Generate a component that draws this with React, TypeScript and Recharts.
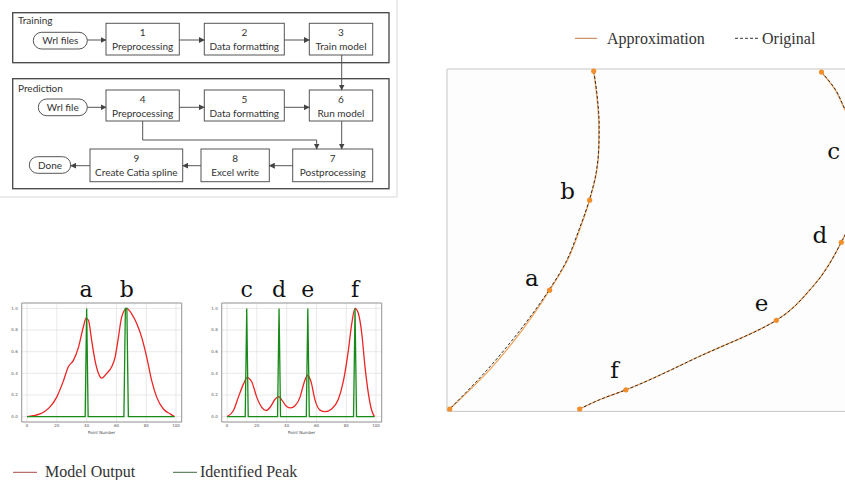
import React from 'react';
import {
  ComposedChart,
  Line,
  Scatter,
  XAxis,
  YAxis,
  CartesianGrid,
  ReferenceArea
} from 'recharts';

// ---- small plots: model output vs identified peak ----
const xTicks = [0, 20, 40, 60, 80, 100];
const yTicks = [0, 0.2, 0.4, 0.6, 0.8, 1.0];

const outputAB = [
  { x: 0, y: 0 }, { x: 4, y: 0.008 }, { x: 8.7, y: 0.025 }, { x: 12, y: 0.05 },
  { x: 15.4, y: 0.09 }, { x: 19.9, y: 0.18 }, { x: 24.4, y: 0.33 }, { x: 27.7, y: 0.46 },
  { x: 31.1, y: 0.52 }, { x: 34.5, y: 0.64 }, { x: 37.8, y: 0.83 }, { x: 39.6, y: 0.91 },
  { x: 41.2, y: 0.89 }, { x: 43.4, y: 0.7 }, { x: 45.6, y: 0.52 }, { x: 47.9, y: 0.4 },
  { x: 50.1, y: 0.355 }, { x: 53.5, y: 0.4 }, { x: 56.8, y: 0.46 }, { x: 59.1, y: 0.55 },
  { x: 61.3, y: 0.73 }, { x: 63.5, y: 0.92 }, { x: 66.9, y: 1.0 }, { x: 70.2, y: 0.95 },
  { x: 73.6, y: 0.86 }, { x: 77, y: 0.73 }, { x: 80.3, y: 0.55 }, { x: 83.7, y: 0.33 },
  { x: 87, y: 0.18 }, { x: 91.5, y: 0.07 }, { x: 96, y: 0.025 }, { x: 99, y: 0 }
];
const peaksAB = [
  { x: 0, y: 0 }, { x: 39, y: 0 }, { x: 40, y: 1 }, { x: 41, y: 0 },
  { x: 65, y: 0 }, { x: 66, y: 1 }, { x: 67, y: 1 }, { x: 68, y: 0 }, { x: 99, y: 0 }
];
const lettersAB = [
  { x: 39.6, y: 1, t: 'a' },
  { x: 66.9, y: 1, t: 'b' }
];

const outputCF = [
  { x: 0, y: 0 }, { x: 4.3, y: 0.056 }, { x: 7.6, y: 0.18 }, { x: 11, y: 0.3 },
  { x: 13.4, y: 0.36 }, { x: 16.6, y: 0.32 }, { x: 19.9, y: 0.18 }, { x: 23.3, y: 0.086 },
  { x: 26.2, y: 0.056 }, { x: 28.9, y: 0.086 }, { x: 32.2, y: 0.16 }, { x: 34.6, y: 0.185 },
  { x: 36.7, y: 0.155 }, { x: 40, y: 0.093 }, { x: 42.7, y: 0.08 }, { x: 45.6, y: 0.1 },
  { x: 49, y: 0.18 }, { x: 51.2, y: 0.29 }, { x: 53.9, y: 0.38 }, { x: 56.2, y: 0.33 },
  { x: 59.1, y: 0.15 }, { x: 62.4, y: 0.06 }, { x: 65.8, y: 0.045 }, { x: 70.2, y: 0.07 },
  { x: 74.7, y: 0.16 }, { x: 78.1, y: 0.33 }, { x: 81.4, y: 0.61 }, { x: 83.7, y: 0.86 },
  { x: 85.9, y: 1.0 }, { x: 88.2, y: 0.95 }, { x: 90.4, y: 0.77 }, { x: 92.6, y: 0.46 },
  { x: 94.9, y: 0.21 }, { x: 97.1, y: 0.056 }, { x: 99, y: 0 }
];
const peaksCF = [
  { x: 0, y: 0 }, { x: 12.2, y: 0 }, { x: 13.2, y: 1 }, { x: 14.2, y: 0 },
  { x: 33.9, y: 0 }, { x: 34.9, y: 1 }, { x: 35.9, y: 0 },
  { x: 53.2, y: 0 }, { x: 54.2, y: 1 }, { x: 55.2, y: 0 },
  { x: 84.9, y: 0 }, { x: 85.9, y: 1 }, { x: 86.9, y: 0 }, { x: 99, y: 0 }
];
const lettersCF = [
  { x: 13.2, y: 1, t: 'c' },
  { x: 34.9, y: 1, t: 'd' },
  { x: 54.2, y: 1, t: 'e' },
  { x: 85.9, y: 1, t: 'f' }
];

// ---- spline comparison (right panel) ----
const approxLeft = [
  { x: 42.9, y: 99.4 }, { x: 43.7, y: 93.1 }, { x: 44.4, y: 83.3 }, { x: 44.4, y: 77.5 },
  { x: 43.7, y: 69.7 }, { x: 41.7, y: 61.7 }, { x: 38.8, y: 53.1 }, { x: 34.9, y: 43.5 },
  { x: 30.0, y: 35.4 }, { x: 22.1, y: 23.9 }, { x: 12.5, y: 12.2 }, { x: 0.8, y: 0.7 }
];
const originalLeft = [
  { x: 42.9, y: 99.4 }, { x: 43.8, y: 93.1 }, { x: 44.5, y: 83.3 }, { x: 44.4, y: 77.5 },
  { x: 43.6, y: 69.7 }, { x: 41.6, y: 61.7 }, { x: 38.6, y: 53.1 }, { x: 34.7, y: 43.5 },
  { x: 29.8, y: 35.4 }, { x: 21.5, y: 23.9 }, { x: 11.8, y: 12.2 }, { x: 0.8, y: 0.7 }
];
const approxRight = [
  { x: 109.5, y: 99.1 }, { x: 113.4, y: 94.1 }, { x: 116.3, y: 88.2 }, { x: 119.6, y: 82.3 },
  { x: 121.3, y: 73.6 }, { x: 120.1, y: 61.9 }, { x: 117.8, y: 54.6 }, { x: 115.3, y: 49.4 },
  { x: 107.0, y: 36.5 }, { x: 96.3, y: 26.6 }, { x: 73.9, y: 16.1 }, { x: 52.3, y: 6.3 },
  { x: 44.6, y: 3.4 }, { x: 38.8, y: 0.7 }
];
const originalRight = [
  { x: 109.5, y: 99.1 }, { x: 113.5, y: 94.1 }, { x: 116.4, y: 88.2 }, { x: 119.6, y: 82.3 },
  { x: 121.3, y: 73.6 }, { x: 120.1, y: 61.9 }, { x: 117.8, y: 54.6 }, { x: 115.3, y: 49.4 },
  { x: 107.0, y: 36.5 }, { x: 96.3, y: 26.6 }, { x: 73.9, y: 16.1 }, { x: 52.3, y: 6.3 },
  { x: 44.6, y: 3.4 }, { x: 38.8, y: 0.7 }
];
const knots = [
  { x: 0.8, y: 0.7 }, { x: 30.0, y: 35.4 }, { x: 41.7, y: 61.7 }, { x: 42.9, y: 99.4 },
  { x: 109.5, y: 99.1 }, { x: 121.3, y: 73.6 }, { x: 115.3, y: 49.4 }, { x: 96.3, y: 26.6 },
  { x: 52.3, y: 6.3 }, { x: 38.8, y: 0.7 }
];
const knotLabels = [
  { x: 24.8, y: 36.5, t: 'a' },
  { x: 35.3, y: 61.9, t: 'b' },
  { x: 113.1, y: 73.8, t: 'c' },
  { x: 109.0, y: 49.2, t: 'd' },
  { x: 92.0, y: 29.2, t: 'e' },
  { x: 49.0, y: 9.8, t: 'f' }
];

const serif = '"DejaVu Serif", serif';
const legendFont = '"Liberation Serif", serif';
const tinyFont = '"DejaVu Sans", sans-serif';

function PeakPlot({ output, peaks, letters }: any) {
  return (
    <ComposedChart width={200} height={180} margin={{ top: 33, right: 18.3, bottom: 8, left: 0 }}>
      <CartesianGrid stroke="#dadada" strokeWidth={0.6} />
      <XAxis
        type="number"
        dataKey="x"
        domain={[-3.6, 103.8]}
        ticks={xTicks}
        interval={0}
        height={20}
        tickLine={false}
        axisLine={false}
        tickSize={0}
        tickMargin={2}
        tick={{ fontSize: 4, fill: '#555', fontFamily: tinyFont }}
        label={{ value: 'Point Number', position: 'insideBottom', offset: 8, fontSize: 4, fill: '#444', fontFamily: tinyFont }}
      />
      <YAxis
        type="number"
        dataKey="y"
        domain={[-0.05, 1.05]}
        ticks={yTicks}
        interval={0}
        width={21.7}
        tickLine={false}
        axisLine={false}
        tickSize={0}
        tickMargin={4}
        tickFormatter={(v: number) => v.toFixed(1)}
        tick={{ fontSize: 4, fill: '#555', fontFamily: tinyFont }}
      />
      <ReferenceArea x1={-3.6} x2={103.8} y1={-0.05} y2={1.05} fill="none" stroke="#9a9a9a" strokeWidth={1} />
      <Line data={output} dataKey="y" type="monotone" stroke="#ec2424" strokeWidth={1.3} dot={false} activeDot={false} isAnimationActive={false} />
      <Line data={peaks} dataKey="y" type="linear" stroke="#178a17" strokeWidth={1.3} dot={false} activeDot={false} isAnimationActive={false} />
      <Scatter
        data={letters}
        isAnimationActive={false}
        shape={(p: any) => (
          <text x={p.cx} y={p.cy - 11} textAnchor="middle" fontSize={22} fontFamily={serif} fill="#111">
            {p.payload.t}
          </text>
        )}
      />
    </ComposedChart>
  );
}

function Flowchart() {
  const box = (x: number, y: number, w: number, h: number, n: string, label: string) => (
    <g key={n}>
      <rect x={x} y={y} width={w} height={h} fill="#fff" stroke="#555" strokeWidth={1} />
      <text x={x + w / 2} y={y + 13} textAnchor="middle" fontSize={10} fill="#333">{n}</text>
      <text x={x + w / 2} y={y + 26.5} textAnchor="middle" fontSize={10} fill="#333">{label}</text>
    </g>
  );
  const pill = (x: number, y: number, w: number, h: number, label: string) => (
    <g key={label}>
      <rect x={x} y={y} width={w} height={h} rx={h / 2} fill="#fff" stroke="#555" strokeWidth={1} />
      <text x={x + w / 2} y={y + h / 2 + 3.5} textAnchor="middle" fontSize={10} fill="#333">{label}</text>
    </g>
  );
  const arrow = (d: string, k: string) => (
    <path key={k} d={d} fill="none" stroke="#555" strokeWidth={1} markerEnd="url(#ah)" />
  );
  return (
    <svg width={400} height={200} style={{ position: 'absolute', left: 0, top: 0, fontFamily: 'Lato, sans-serif' }}>
      <defs>
        <marker id="ah" markerWidth={6} markerHeight={6} refX={5.5} refY={3} orient="auto" markerUnits="userSpaceOnUse">
          <path d="M0,0 L6,3 L0,6 z" fill="#444" />
        </marker>
      </defs>
      <line x1={397} y1={0} x2={397} y2={197} stroke="#d8d8d8" />
      <line x1={0} y1={197} x2={397} y2={197} stroke="#d8d8d8" />
      <rect x={12.7} y={12.7} width={376.3} height={50} fill="#fff" stroke="#444" strokeWidth={1.3} />
      <rect x={12.7} y={78.7} width={376.3} height={110} fill="#fff" stroke="#444" strokeWidth={1.3} />
      <text x={18} y={23.5} fontSize={10} fill="#333">Training</text>
      <text x={18} y={92} fontSize={10} fill="#333">Prediction</text>
      {pill(33.3, 32.3, 54, 16.7, 'Wrl files')}
      {box(106, 23.3, 73.3, 31.7, '1', 'Preprocessing')}
      {box(204.3, 23.3, 80, 31.7, '2', 'Data formatting')}
      {box(309.3, 23.3, 63.4, 31.7, '3', 'Train model')}
      {pill(38.3, 99, 49, 16.7, 'Wrl file')}
      {box(106, 90, 73.3, 31, '4', 'Preprocessing')}
      {box(204.3, 90, 80, 31, '5', 'Data formatting')}
      {box(309.3, 90, 63.4, 31, '6', 'Run model')}
      {box(292.7, 149, 80, 32.7, '7', 'Postprocessing')}
      {box(201, 149, 68.3, 32.7, '8', 'Excel write')}
      {box(90, 149, 92.7, 32.7, '9', 'Create Catia spline')}
      {pill(29.3, 156.7, 41.4, 16.6, 'Done')}
      {arrow('M87.3,40 L106,40', 'a1')}
      {arrow('M179.3,40 L204.3,40', 'a2')}
      {arrow('M284.3,40 L309.3,40', 'a3')}
      {arrow('M341.7,55 L341.7,90', 'a4')}
      {arrow('M87.3,107.3 L106,107.3', 'a5')}
      {arrow('M179.3,107.3 L204.3,107.3', 'a6')}
      {arrow('M284.3,107.3 L309.3,107.3', 'a7')}
      {arrow('M341.7,121 L341.7,149', 'a8')}
      {arrow('M142.7,121 L142.7,140 L316.7,140 L316.7,149', 'a9')}
      {arrow('M292.7,165.7 L269.3,165.7', 'a10')}
      {arrow('M201,165.7 L182.7,165.7', 'a11')}
      {arrow('M90,165.7 L70.7,165.7', 'a12')}
    </svg>
  );
}

function SplinePlot() {
  const line = (data: any[], k: string, dashed: boolean) => (
    <Line
      key={k}
      data={data}
      dataKey="y"
      type="monotoneY"
      stroke={dashed ? '#1c1c1c' : '#f2a35c'}
      strokeWidth={dashed ? 0.9 : 1.3}
      strokeDasharray={dashed ? '3 2' : undefined}
      dot={false}
      activeDot={false}
      isAnimationActive={false}
    />
  );
  return (
    <ComposedChart width={454.6} height={352.4} margin={{ top: 5, right: 5, bottom: 5, left: 5 }}>
      <XAxis hide type="number" dataKey="x" domain={[0, 130]} />
      <YAxis hide type="number" dataKey="y" domain={[0, 100]} />
      <ReferenceArea x1={0} x2={130} y1={0} y2={100} fill="#fdfdfd" fillOpacity={1} stroke="#c6c6c6" strokeWidth={1} />
      {line(approxLeft, 'al', false)}
      {line(approxRight, 'ar', false)}
      {line(originalLeft, 'ol', true)}
      {line(originalRight, 'or', true)}
      <Scatter
        data={knots}
        isAnimationActive={false}
        shape={(p: any) => <circle cx={p.cx} cy={p.cy} r={2.6} fill="#f28e2b" />}
      />
      <Scatter
        data={knotLabels}
        isAnimationActive={false}
        shape={(p: any) => (
          <text x={p.cx} y={p.cy} textAnchor="middle" fontSize={23} fontFamily={serif} fill="#111">
            {p.payload.t}
          </text>
        )}
      />
    </ComposedChart>
  );
}

export default function App() {
  return (
    <div style={{ position: 'fixed', left: 0, top: 0, width: 845, height: 480, overflow: 'hidden', background: '#fff' }}>
      <Flowchart />
      <div style={{ position: 'absolute', left: 0, top: 270 }}>
        <PeakPlot output={outputAB} peaks={peaksAB} letters={lettersAB} />
      </div>
      <div style={{ position: 'absolute', left: 200, top: 270 }}>
        <PeakPlot output={outputCF} peaks={peaksCF} letters={lettersCF} />
      </div>
      <div style={{ position: 'absolute', left: 442.3, top: 64.3 }}>
        <SplinePlot />
      </div>
      <svg width={845} height={480} style={{ position: 'absolute', left: 0, top: 0, pointerEvents: 'none' }}>
        <g fontFamily={legendFont} fontSize={16} fill="#333">
          <line x1={13} y1={472.3} x2={37} y2={472.3} stroke="#a84a4a" strokeWidth={1} />
          <text x={45} y={476.7}>Model Output</text>
          <line x1={173} y1={472.3} x2={197} y2={472.3} stroke="#3f6a3f" strokeWidth={1} />
          <text x={200} y={476.7}>Identified Peak</text>
          <line x1={575} y1={38.3} x2={597} y2={38.3} stroke="#b8784a" strokeWidth={1} />
          <text x={607} y={44}>Approximation</text>
          <line x1={735} y1={38.3} x2={760} y2={38.3} stroke="#333" strokeWidth={1} strokeDasharray="3 2" />
          <text x={762} y={44}>Original</text>
        </g>
      </svg>
    </div>
  );
}
